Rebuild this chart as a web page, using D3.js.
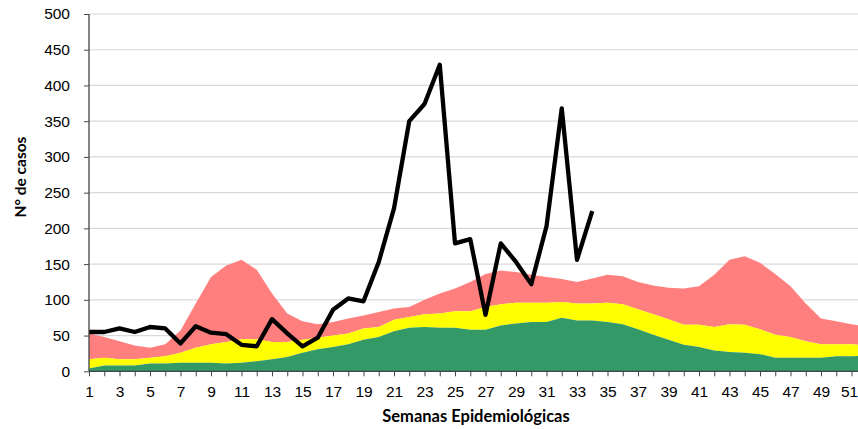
<!DOCTYPE html>
<html>
<head>
<meta charset="utf-8">
<script src="https://cdn.jsdelivr.net/npm/d3@7"></script>
<style>
  html, body { margin: 0; padding: 0; background: #fff; }
  svg { display: block; }
</style>
</head>
<body>
<div id="chart"></div>
<script>
// Weeks 1..52
const weeks = d3.range(1, 53);
// Upper limit of each zone (cumulative values)
const exitoTop = [4, 8, 8, 8, 11, 11, 12, 12, 12, 11, 12, 14, 17, 20, 26, 31, 34, 38, 44, 48, 56, 61, 62, 61, 61, 58, 58, 64, 67, 69, 69, 75, 71, 71, 69, 66, 59, 51, 44, 37, 34, 29, 27, 26, 24, 19, 19, 19, 19, 21, 21, 22];
const seguridadTop = [17, 19, 17, 17, 19, 21, 26, 33, 38, 41, 45, 45, 41, 41, 44, 47, 50, 53, 60, 62, 72, 76, 80, 81, 84, 84, 90, 94, 96, 96, 96, 97, 95, 95, 96, 94, 87, 80, 73, 65, 65, 62, 66, 65, 59, 51, 48, 42, 38, 38, 38, 36];
const alertaTop = [53, 48, 42, 36, 33, 38, 57, 95, 132, 148, 156, 142, 109, 81, 70, 66, 69, 74, 78, 83, 88, 90, 100, 109, 116, 125, 136, 141, 139, 135, 132, 129, 125, 130, 135, 133, 125, 120, 117, 116, 119, 135, 156, 161, 152, 136, 119, 95, 74, 70, 66, 62];
// Observed cases (weeks 1..34)
const casos = [55, 55, 60, 55, 62, 60, 39, 63, 54, 52, 37, 35, 73, 53, 35, 47, 86, 102, 98, 153, 228, 350, 374, 429, 179, 185, 79, 179, 153, 122, 203, 368, 156, 224];
const yTicks = [0, 50, 100, 150, 200, 250, 300, 350, 400, 450, 500];
const xTickLabels = d3.range(1, 52, 2);

const W = 858, H = 429;
const margin = { left: 89, top: 14 };
const svg = d3.select("#chart").append("svg").attr("width", W).attr("height", H);

const x = d3.scaleLinear().domain([1, 52]).range([margin.left, margin.left + 51 * 15.25]);
const y = d3.scaleLinear().domain([0, 500]).range([371.3, margin.top]);

// gridlines
svg.append("g").selectAll("line").data(yTicks.filter(d => d > 0)).join("line")
  .attr("x1", margin.left).attr("x2", W)
  .attr("y1", d => y(d)).attr("y2", d => y(d))
  .attr("stroke", "#d9d9d9").attr("stroke-width", 1.2);

const zones = [
  { top: alertaTop, bottom: seguridadTop, color: "#FF7F7F" },
  { top: seguridadTop, bottom: exitoTop, color: "#FFFF00" },
  { top: exitoTop, bottom: null, color: "#339966" }
];
const area = d3.area()
  .x((d, i) => x(weeks[i]))
  .y0(d => y(d[0])).y1(d => y(d[1]));

zones.forEach(z => {
  const data = z.top.map((v, i) => [z.bottom ? z.bottom[i] : 0, v]);
  svg.append("path").datum(data).attr("d", area).attr("fill", z.color);
});

// observed cases line
const line = d3.line().x((d, i) => x(weeks[i])).y(d => y(d));
svg.append("path").datum(casos).attr("d", line)
  .attr("fill", "none").attr("stroke", "#000").attr("stroke-width", 4.3)
  .attr("stroke-linejoin", "round");

const tickFont = "Liberation Sans, Arial, sans-serif";
// axes
const yAxis = d3.axisLeft(y).tickValues(yTicks).tickSize(5).tickPadding(14);
const gy = svg.append("g").attr("transform", `translate(${margin.left},0)`).call(yAxis);
gy.select(".domain").attr("stroke", "#444").attr("stroke-width", 1.3).attr("d", `M0,${y(0)}V${y(500)}`);
gy.selectAll(".tick line").attr("stroke", "#444");
gy.selectAll("text").attr("font-family", tickFont).attr("font-size", 15.5).attr("fill", "#000");

const xAxis = d3.axisBottom(x).tickValues(weeks).tickSize(5).tickPadding(10)
  .tickFormat(d => xTickLabels.includes(d) ? d : "");
const gx = svg.append("g").attr("transform", `translate(0,${y(0)})`).call(xAxis);
gx.select(".domain").attr("stroke", "#444").attr("stroke-width", 1.3).attr("d", `M${margin.left},0H${W}`);
gx.selectAll(".tick line").attr("stroke", "#444");
gx.selectAll("text").attr("font-family", tickFont).attr("font-size", 15.5).attr("fill", "#000");
// keep the last label inside the picture
gx.selectAll(".tick").filter(d => d === 51).select("text").attr("dx", -2.5);

// titles
svg.append("text").attr("x", 476).attr("y", 422)
  .attr("text-anchor", "middle").attr("font-family", "Lato, Open Sans, sans-serif")
  .attr("font-weight", "bold").attr("font-size", 16.5).attr("fill", "#000")
  .text("Semanas Epidemiológicas");
svg.append("text").attr("transform", "translate(26,177) rotate(-90)")
  .attr("text-anchor", "middle").attr("font-family", "Lato, Open Sans, sans-serif")
  .attr("font-weight", "bold").attr("font-size", 15.5).attr("fill", "#000")
  .text("N° de casos");
</script>
</body>
</html>
